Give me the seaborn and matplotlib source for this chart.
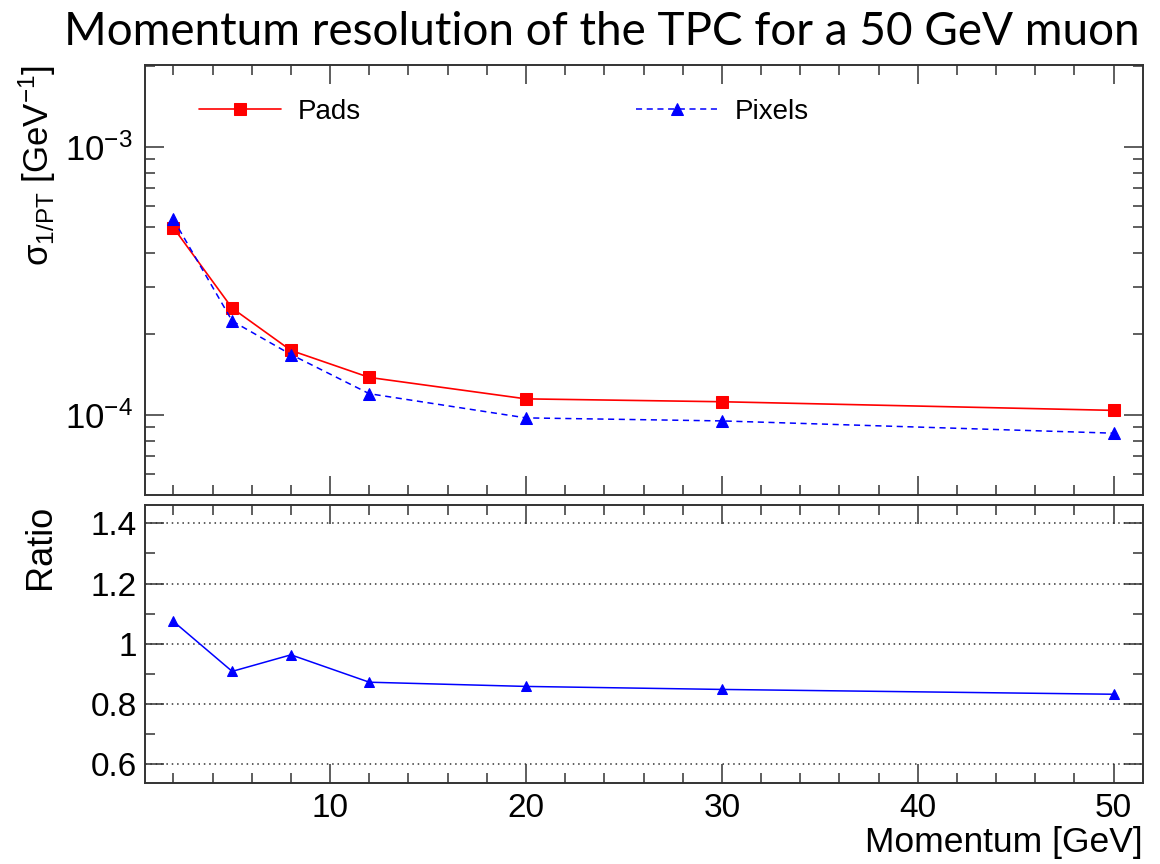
import numpy as np
import pandas as pd
import matplotlib
matplotlib.use("Agg")
import matplotlib.pyplot as plt
import seaborn as sns
from matplotlib.ticker import MultipleLocator, LogLocator, LogFormatterSciNotation, NullFormatter, FuncFormatter

# ---- data ----
momentum = [2, 5, 8, 12, 20, 30, 50]
pads = [4.99e-4, 2.50e-4, 1.74e-4, 1.38e-4, 1.148e-4, 1.12e-4, 1.04e-4]
pixels = [5.36e-4, 2.24e-4, 1.68e-4, 1.20e-4, 9.75e-5, 9.5e-5, 8.55e-5]
ratio = [1.074, 0.908, 0.963, 0.872, 0.858, 0.848, 0.832]
x_ticklabels = ["10", "20", "30", "40", "50"]
series_names = ["Pads", "Pixels"]

sns.set_style("white")
plt.rcParams["font.family"] = ["Liberation Sans", "DejaVu Sans"]
plt.rcParams["mathtext.fontset"] = "custom"
plt.rcParams["mathtext.rm"] = "Liberation Sans"
plt.rcParams["mathtext.it"] = "Liberation Sans:italic"
plt.rcParams["mathtext.bf"] = "Liberation Sans:bold"
plt.rcParams["mathtext.sf"] = "Liberation Sans"
plt.rcParams["text.color"] = "black"
plt.rcParams["axes.labelcolor"] = "black"
plt.rcParams["xtick.labelcolor"] = "black"
plt.rcParams["ytick.labelcolor"] = "black"

W, H = 1160, 864
fig = plt.figure(figsize=(W / 100, H / 100), dpi=100)
fig.patch.set_facecolor("white")

def rect(x0, y0, x1, y1):
    return [x0 / W, 1 - y1 / H, (x1 - x0) / W, (y1 - y0) / H]

ax1 = fig.add_axes(rect(145, 65, 1143, 495))
ax2 = fig.add_axes(rect(145, 505, 1143, 783))

df = pd.DataFrame({"Momentum": momentum, "Pads": pads, "Pixels": pixels, "Ratio": ratio})

sns.lineplot(data=df, x="Momentum", y="Pads", ax=ax1, color="#ff0000", marker="s",
             markersize=8.5, markeredgecolor="#ff0000", linewidth=1.2, label=series_names[0])
sns.lineplot(data=df, x="Momentum", y="Pixels", ax=ax1, color="#0000ff", marker="^",
             markersize=8, markeredgecolor="#0000ff", linewidth=1.1, linestyle=(0, (4, 3)),
             label=series_names[1])
sns.lineplot(data=df, x="Momentum", y="Ratio", ax=ax2, color="#0000ff", marker="^",
             markersize=7.5, markeredgecolor="#0000ff", linewidth=1.1)

frame_col = "#333333"
for ax in (ax1, ax2):
    ax.set_xlim(0.55, 51.5)
    ax.xaxis.set_major_locator(MultipleLocator(10))
    ax.xaxis.set_minor_locator(MultipleLocator(2))
    for s in ax.spines.values():
        s.set_linewidth(1.4)
        s.set_color(frame_col)
        s.set_visible(True)
    ax.tick_params(which="both", direction="in", top=True, right=True, bottom=True, left=True,
                   color=frame_col, width=1.1, labelsize=24, labelcolor="black")
    ax.tick_params(which="major", length=14)
    ax.tick_params(which="minor", length=7)
    ax.set_facecolor("white")

# top panel
ax1.set_yscale("log")
ax1.set_ylim(5.03e-5, 2.016e-3)
ax1.yaxis.set_major_locator(LogLocator(base=10))
ax1.yaxis.set_minor_locator(LogLocator(base=10, subs=np.arange(2, 10)))
ax1.yaxis.set_major_formatter(LogFormatterSciNotation())
ax1.yaxis.set_minor_formatter(NullFormatter())
ax1.tick_params(axis="x", labelbottom=False)
ax1.tick_params(axis="y", pad=9, labelsize=25)
ax1.set_xlabel("")
ax1.set_ylabel("σ$_{\\mathrm{1/PT}}$ [GeV$^{\\mathrm{-1}}$]", fontsize=25, loc="top")
ax1.yaxis.set_label_coords(-0.087, 1.0)

leg = ax1.legend(ncol=2, loc="center left", bbox_to_anchor=(199 / W, 1 - 112 / H),
                 bbox_transform=fig.transFigure, frameon=False, fontsize=20,
                 handlelength=2.95, handletextpad=0.6, columnspacing=9.9,
                 borderpad=0, borderaxespad=0)

# bottom panel
ax2.set_ylim(0.537, 1.461)
ax2.yaxis.set_major_locator(MultipleLocator(0.2))
ax2.yaxis.set_minor_locator(MultipleLocator(0.1))
ax2.yaxis.set_major_formatter(FuncFormatter(lambda v, p: f"{v:g}"))
ax2.set_xticks([10, 20, 30, 40, 50])
ax2.set_xticklabels(x_ticklabels)
ax2.tick_params(axis="y", pad=6)
ax2.tick_params(axis="x", pad=7)
ax2.yaxis.grid(True, which="major", linestyle=(0, (1, 2.5)), color="#333333", linewidth=1.1)
ax2.xaxis.grid(False)
ax2.set_ylabel("Ratio", fontsize=26, loc="top")
ax2.yaxis.set_label_coords(-0.087, 1.0)
ax2.set_xlabel("Momentum [GeV]", fontsize=25.5, loc="right")
ax2.xaxis.set_label_coords(1.0, -0.155)

fig.text(1140 / W, 1 - 32 / H, "Momentum resolution of the TPC for a 50 GeV muon",
         fontsize=33, family=["Lato", "DejaVu Sans"], ha="right", va="center", color="black")

fig.savefig("out.png", dpi=100, facecolor="white")
